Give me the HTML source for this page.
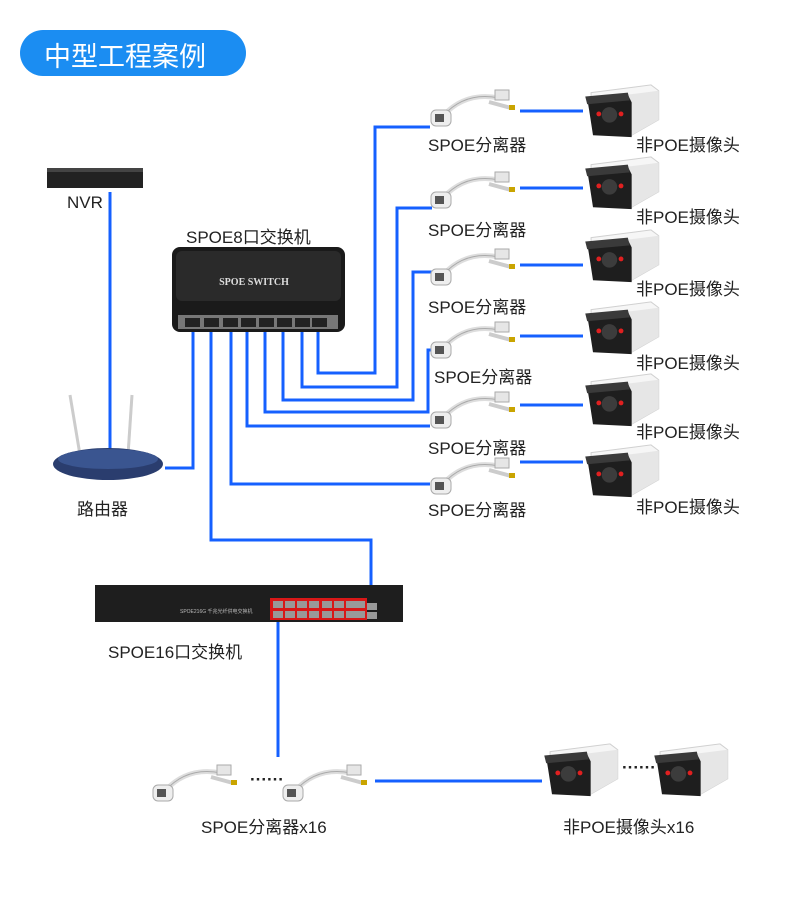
<!DOCTYPE html>
<html><head><meta charset="utf-8"><style>
html,body{margin:0;padding:0;background:#fff}
body{width:790px;height:911px;position:relative;overflow:hidden;font-family:"Liberation Sans","Noto Sans CJK SC",sans-serif}
.t{position:absolute;font-size:17px;color:#222;white-space:nowrap}
</style></head><body>
<svg width="790" height="911" style="position:absolute;left:0;top:0">
<defs>
<symbol id="spl" viewBox="0 0 90 40">
 <path d="M14 28 C30 10,50 6,70 10" stroke="#ddd" stroke-width="5" fill="none"/>
 <path d="M14 28 C30 10,50 6,70 10" stroke="#aaa" stroke-width="1" fill="none"/>
 <rect x="2" y="22" width="20" height="16" rx="5" fill="#eee" stroke="#aaa"/>
 <rect x="6" y="26" width="9" height="8" fill="#555"/>
 <rect x="66" y="2" width="14" height="10" fill="#e6e6e6" stroke="#aaa"/>
 <path d="M60 14 L82 20" stroke="#ccc" stroke-width="4"/>
 <rect x="80" y="17" width="6" height="5" fill="#c9a400"/>
</symbol>
<symbol id="cam" viewBox="0 0 80 60">
 <path d="M8 10 L70 2 L78 8 L78 38 L50 54 L46 30 L8 24 Z" fill="#f6f6f6" stroke="#d0d0d0"/>
 <path d="M46 12 L78 8 L78 38 L50 54 Z" fill="#e6e6e6"/>
 <path d="M4 16 L46 12 L50 20 L50 56 L10 54 L6 28 Z" fill="#1e1e1e"/>
 <path d="M2 14 L46 10 L48 18 L4 22 Z" fill="#3a3a3a"/>
 <circle cx="27" cy="33" r="8" fill="#3c3c3c"/>
 <circle cx="16" cy="32" r="2.5" fill="#e02020"/>
 <circle cx="39" cy="32" r="2.5" fill="#e02020"/>
</symbol>
</defs>
<rect x="20" y="30" width="226" height="46" rx="23" fill="#1b8df2"/>
<!-- NVR -->
<rect x="47" y="168" width="96" height="20" fill="#222"/>
<rect x="47" y="168" width="96" height="4" fill="#444"/>
<g stroke="#1560ff" stroke-width="3" fill="none">
 <path d="M110 192 V455"/>
 <path d="M165 468 H193 V330"/>
 <path d="M211 332 V540 H371 V606"/>
 <path d="M231 332 V484 H430"/>
 <path d="M247 332 V426 H430"/>
 <path d="M265 332 V412 H428 V350 H432"/>
 <path d="M283 332 V400 H413 V272 H432"/>
 <path d="M302 332 V387 H397 V208 H432"/>
 <path d="M318 332 V373 H375 V127 H430"/>
 <path d="M520 111 H583"/><path d="M520 188 H583"/><path d="M520 265 H583"/>
 <path d="M520 336 H583"/><path d="M520 405 H583"/><path d="M520 462 H583"/>
 <path d="M278 618 V757"/>
 <path d="M375 781 H542"/>
</g>
<!-- router -->
<line x1="70" y1="395" x2="80" y2="455" stroke="#ccc" stroke-width="3"/>
<line x1="132" y1="395" x2="128" y2="455" stroke="#ccc" stroke-width="3"/>
<ellipse cx="108" cy="464" rx="55" ry="16" fill="#2a3d6e"/>
<ellipse cx="108" cy="459" rx="50" ry="10" fill="#3a5590"/>
<!-- 8 port switch -->
<rect x="172" y="247" width="173" height="85" rx="8" fill="#1a1a1a"/>
<rect x="176" y="251" width="165" height="50" rx="6" fill="#2a2a2a"/>
<rect x="178" y="315" width="160" height="14" fill="#777"/>
<g fill="#222">
<rect x="185" y="318" width="15" height="9"/><rect x="204" y="318" width="15" height="9"/><rect x="223" y="318" width="15" height="9"/><rect x="241" y="318" width="15" height="9"/><rect x="259" y="318" width="15" height="9"/><rect x="277" y="318" width="15" height="9"/><rect x="295" y="318" width="15" height="9"/><rect x="312" y="318" width="15" height="9"/>
</g>
<text x="254" y="285" font-family="Liberation Serif,serif" font-size="10" font-weight="bold" fill="#ddd" text-anchor="middle">SPOE SWITCH</text>
<!-- 16 port switch -->
<rect x="95" y="585" width="308" height="37" fill="#1e1e1e"/>
<rect x="270" y="598" width="97" height="22" fill="#d81818"/>
<g fill="#999">
<rect x="273" y="601" width="10" height="7"/><rect x="285" y="601" width="10" height="7"/><rect x="297" y="601" width="10" height="7"/><rect x="309" y="601" width="10" height="7"/><rect x="322" y="601" width="10" height="7"/><rect x="334" y="601" width="10" height="7"/><rect x="346" y="601" width="10" height="7"/><rect x="356" y="601" width="9" height="7"/>
<rect x="273" y="611" width="10" height="7"/><rect x="285" y="611" width="10" height="7"/><rect x="297" y="611" width="10" height="7"/><rect x="309" y="611" width="10" height="7"/><rect x="322" y="611" width="10" height="7"/><rect x="334" y="611" width="10" height="7"/><rect x="346" y="611" width="10" height="7"/><rect x="356" y="611" width="9" height="7"/>
<rect x="367" y="603" width="10" height="7"/><rect x="367" y="612" width="10" height="7"/>
</g>
<text x="180" y="613" font-size="5" fill="#bbb">SPOE216G 千兆光纤供电交换机</text>
<!-- splitters -->
<use href="#spl" x="428" y="88" width="92" height="40"/>
<use href="#spl" x="428" y="170" width="92" height="40"/>
<use href="#spl" x="428" y="247" width="92" height="40"/>
<use href="#spl" x="428" y="320" width="92" height="40"/>
<use href="#spl" x="428" y="390" width="92" height="40"/>
<use href="#spl" x="428" y="456" width="92" height="40"/>
<use href="#spl" x="150" y="763" width="92" height="40"/>
<use href="#spl" x="280" y="763" width="92" height="40"/>
<!-- cameras -->
<use href="#cam" x="583" y="83" width="78" height="58"/>
<use href="#cam" x="583" y="155" width="78" height="58"/>
<use href="#cam" x="583" y="228" width="78" height="58"/>
<use href="#cam" x="583" y="300" width="78" height="58"/>
<use href="#cam" x="583" y="372" width="78" height="58"/>
<use href="#cam" x="583" y="443" width="78" height="58"/>
<use href="#cam" x="542" y="742" width="78" height="58"/>
<use href="#cam" x="652" y="742" width="78" height="58"/>
</svg>
<div class="t" style="left:44px;top:35px;font-size:27px;color:#fff">中型工程案例</div>
<div class="t" style="left:67px;top:193px">NVR</div>
<div class="t" style="left:77px;top:495px">路由器</div>
<div class="t" style="left:186px;top:223px">SPOE8口交换机</div>
<div class="t" style="left:108px;top:638px">SPOE16口交换机</div>
<div class="t" style="left:428px;top:131px">SPOE分离器</div>
<div class="t" style="left:428px;top:216px">SPOE分离器</div>
<div class="t" style="left:428px;top:293px">SPOE分离器</div>
<div class="t" style="left:434px;top:363px">SPOE分离器</div>
<div class="t" style="left:428px;top:434px">SPOE分离器</div>
<div class="t" style="left:428px;top:496px">SPOE分离器</div>
<div class="t" style="left:636px;top:131px">非POE摄像头</div>
<div class="t" style="left:636px;top:203px">非POE摄像头</div>
<div class="t" style="left:636px;top:275px">非POE摄像头</div>
<div class="t" style="left:636px;top:349px">非POE摄像头</div>
<div class="t" style="left:636px;top:418px">非POE摄像头</div>
<div class="t" style="left:636px;top:493px">非POE摄像头</div>
<div class="t" style="left:250px;top:770px;font-weight:bold">······</div>
<div class="t" style="left:622px;top:758px;font-weight:bold">······</div>
<div class="t" style="left:201px;top:813px">SPOE分离器x16</div>
<div class="t" style="left:563px;top:813px">非POE摄像头x16</div>
</body></html>
